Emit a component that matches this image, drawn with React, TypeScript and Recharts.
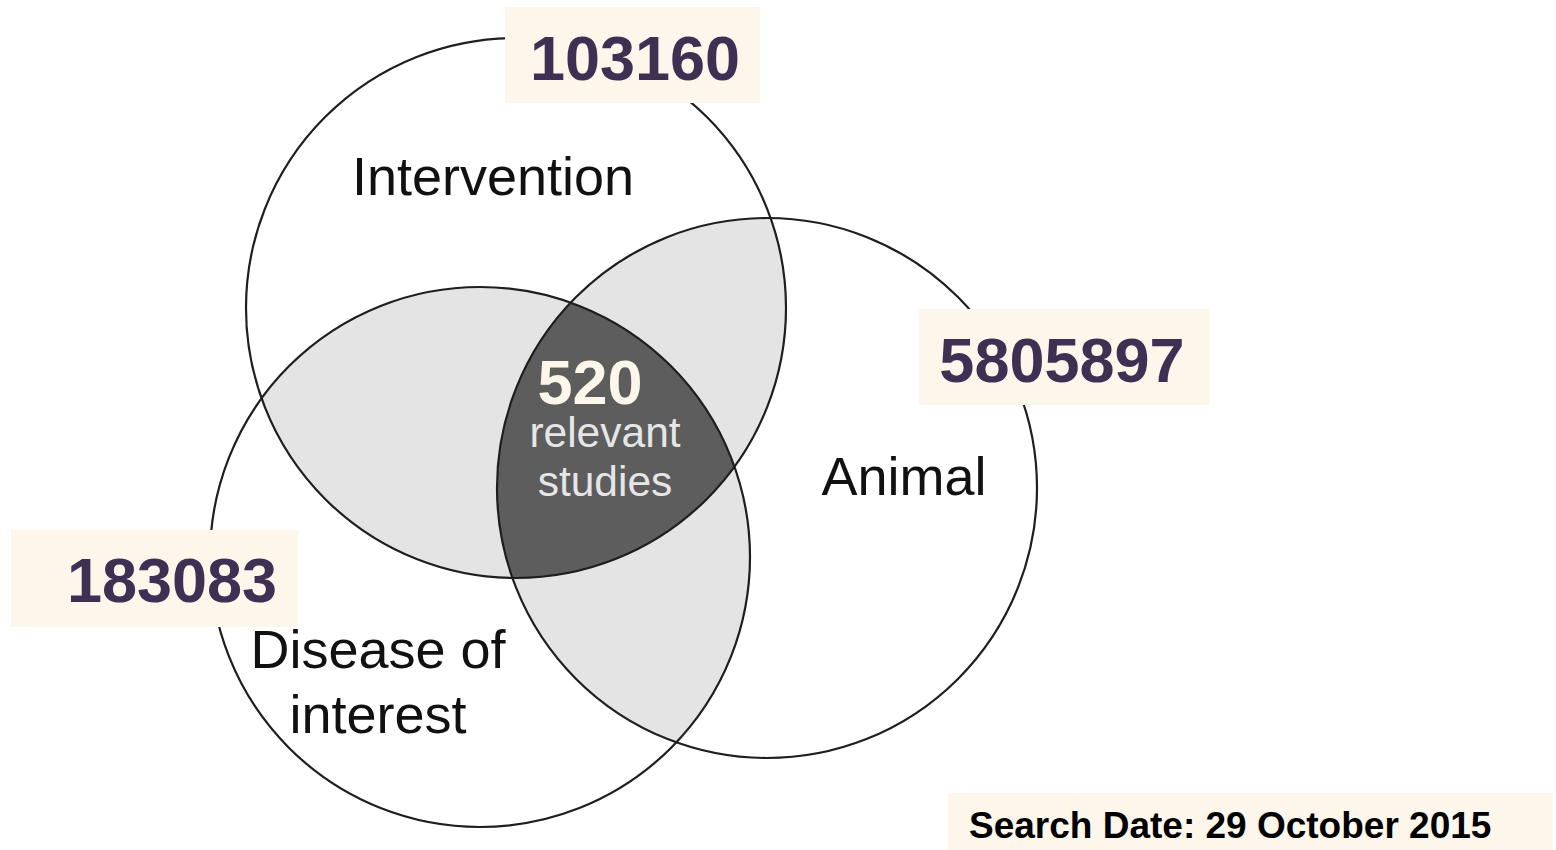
import React from 'react';
import { ScatterChart, Scatter, XAxis, YAxis } from 'recharts';

// values
const setNames = ['Intervention', 'Animal', 'Disease of interest'];
const setCounts = [103160, 5805897, 183083];
const overlapCount = 520;
const overlapLabel = ['relevant', 'studies'];
const searchDate = '29 October 2015';

// layout (pixel space of the chart)
const W = 1556;
const H = 850;
const R = 270;
const circleCenters = [
  { x: 516, y: 308 },
  { x: 767, y: 488 },
  { x: 480, y: 557 },
];
const nameSpots = [
  { x: 493, y: 195, lines: ['Intervention'] },
  { x: 904, y: 495, lines: ['Animal'] },
  { x: 378, y: 668, lines: ['Disease of', 'interest'] },
];
const countBoxes = [
  { bx: 505, by: 7, w: 255, h: 96, x: 635, y: 80 },
  { bx: 919, by: 309, w: 291, h: 96, x: 1062, y: 382 },
  { bx: 11, by: 530, w: 287, h: 97, x: 172, y: 602 },
];

const FONT = '"Liberation Sans", Arial, Helvetica, sans-serif';
const BOX_FILL = '#fdf6eb';
const NUM_COLOR = '#3f2f52';
const LIGHT = '#e4e4e4';
const DARK = '#5d5d5d';
const LINE = '#1e1e1e';

const clipId = (i: number) => `venn-clip-${i}`;

const circleData = circleCenters.map((c, i) => ({ ...c, idx: i }));
const pairData = [
  { ...circleCenters[0], clip: 1 },
  { ...circleCenters[0], clip: 2 },
  { ...circleCenters[1], clip: 2 },
];
const tripleData = [{ ...circleCenters[0] }];

const nameData = nameSpots.map((s, i) => ({
  x: s.x,
  y: s.y,
  lines: s.lines,
  name: setNames[i],
}));
const boxData = countBoxes.map((b, i) => ({ ...b, count: setCounts[i] }));
const centreData = [{ x: 590, y: 404 }];
const dateData = [{ x: 948, y: 793, w: 605, h: 57 }];

const ClipShape = (p: any) => (
  <clipPath id={clipId(p.payload.idx)}>
    <circle cx={p.cx} cy={p.cy} r={R} />
  </clipPath>
);

const PairShape = (p: any) => (
  <circle cx={p.cx} cy={p.cy} r={R} fill={LIGHT} clipPath={`url(#${clipId(p.payload.clip)})`} />
);

const TripleShape = (p: any) => (
  <g clipPath={`url(#${clipId(2)})`}>
    <circle cx={p.cx} cy={p.cy} r={R} fill={DARK} clipPath={`url(#${clipId(1)})`} />
  </g>
);

const OutlineShape = (p: any) => (
  <circle cx={p.cx} cy={p.cy} r={R} fill="none" stroke={LINE} strokeWidth={2.2} />
);

const NameShape = (p: any) => (
  <text x={p.cx} y={p.cy} textAnchor="middle" fontFamily={FONT} fontSize={54} fill="#111">
    {p.payload.lines.map((l: string, i: number) => (
      <tspan key={i} x={p.cx} dy={i === 0 ? 0 : 65}>
        {l}
      </tspan>
    ))}
  </text>
);

const BoxShape = (p: any) => {
  const b = p.payload;
  return (
    <g>
      <rect x={p.cx - (b.x - b.bx)} y={p.cy - (b.y - b.by)} width={b.w} height={b.h} fill={BOX_FILL} />
      <text
        x={p.cx}
        y={p.cy}
        textAnchor="middle"
        fontFamily={FONT}
        fontWeight="bold"
        fontSize={63}
        fill={NUM_COLOR}
      >
        {b.count}
      </text>
    </g>
  );
};

const CentreShape = (p: any) => (
  <g fontFamily={FONT}>
    <text x={p.cx} y={p.cy} textAnchor="middle" fontWeight="bold" fontSize={63} fill="#fdf6ea">
      {overlapCount}
    </text>
    <text x={p.cx + 15} y={p.cy + 43} textAnchor="middle" fontSize={42.5} fill="#e6e6e6">
      {overlapLabel[0]}
    </text>
    <text x={p.cx + 15} y={p.cy + 92} textAnchor="middle" fontSize={42.5} fill="#e6e6e6">
      {overlapLabel[1]}
    </text>
  </g>
);

const DateShape = (p: any) => {
  const d = p.payload;
  return (
    <g>
      <rect x={p.cx} y={p.cy} width={d.w} height={d.h} fill={BOX_FILL} />
      <text x={p.cx + 21} y={p.cy + 45} fontFamily={FONT} fontWeight="bold" fontSize={37} fill="#000">
        {`Search Date: ${searchDate}`}
      </text>
    </g>
  );
};

export default function App() {
  return (
    <div style={{ position: 'absolute', left: 0, top: 0, background: '#fff' }}>
      <ScatterChart width={W} height={H} margin={{ top: 0, right: 0, bottom: 0, left: 0 }}>
        <XAxis type="number" dataKey="x" domain={[0, W]} hide />
        <YAxis type="number" dataKey="y" domain={[0, H]} reversed hide />
        <Scatter data={circleData} shape={ClipShape} isAnimationActive={false} />
        <Scatter data={pairData} shape={PairShape} isAnimationActive={false} />
        <Scatter data={tripleData} shape={TripleShape} isAnimationActive={false} />
        <Scatter data={circleData} shape={OutlineShape} isAnimationActive={false} />
        <Scatter data={nameData} shape={NameShape} isAnimationActive={false} />
        <Scatter data={centreData} shape={CentreShape} isAnimationActive={false} />
        <Scatter data={boxData} shape={BoxShape} isAnimationActive={false} />
        <Scatter data={dateData} shape={DateShape} isAnimationActive={false} />
      </ScatterChart>
    </div>
  );
}
